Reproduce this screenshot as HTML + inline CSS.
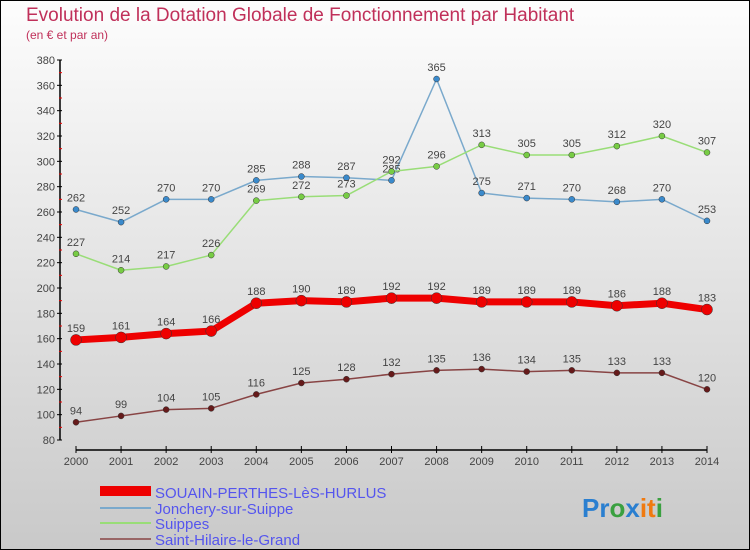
<!DOCTYPE html>
<html><head><meta charset="utf-8"><style>
body{margin:0;width:750px;height:550px;overflow:hidden}
svg{display:block;font-family:"Liberation Sans",sans-serif}
</style></head><body>
<svg id="c" width="750" height="550">
<defs><linearGradient id="bg" x1="0" y1="0" x2="0" y2="1"><stop offset="0" stop-color="#fdfdfd"/><stop offset="1" stop-color="#c9c9c9"/></linearGradient></defs>
<rect x="0.5" y="0.5" width="749" height="549" fill="url(#bg)" stroke="#000"/>
<text x="26" y="21" font-size="19" fill="#c0305a">Evolution de la Dotation Globale de Fonctionnement par Habitant</text>
<text x="26" y="39" font-size="12" fill="#c0305a">(en € et par an)</text>
<g id="axes"></g><g id="series"></g>
<g>
<rect x="100" y="486" width="51" height="10" fill="#e00"/>
<text x="155" y="498" font-size="15" fill="#5555ee">SOUAIN-PERTHES-LèS-HURLUS</text>
<rect x="100" y="507" width="51" height="2" fill="#7aa9cc"/>
<text x="155" y="514" font-size="15" fill="#5555ee">Jonchery-sur-Suippe</text>
<rect x="100" y="522" width="51" height="2" fill="#99dd77"/>
<text x="155" y="529" font-size="15" fill="#5555ee">Suippes</text>
<rect x="100" y="538" width="51" height="2" fill="#996666"/>
<text x="155" y="545" font-size="15" fill="#5555ee">Saint-Hilaire-le-Grand</text>
</g>
<text x="582" y="517" font-size="26" font-weight="bold"><tspan fill="#2a7fd0">Pr</tspan><tspan fill="#3aa040">o</tspan><tspan fill="#2a7fd0">x</tspan><tspan fill="#f07a10">it</tspan><tspan fill="#3aa040">i</tspan></text>
</svg>
<script>
const years=[2000,2001,2002,2003,2004,2005,2006,2007,2008,2009,2010,2011,2012,2013,2014];
const souain=[159,161,164,166,188,190,189,192,192,189,189,189,186,188,183];
const jonchery=[262,252,270,270,285,288,287,285,365,275,271,270,268,270,253];
const suippes=[227,214,217,226,269,272,273,292,296,313,305,305,312,320,307];
const hilaire=[94,99,104,105,116,125,128,132,135,136,134,135,133,133,120];
const yTicks=[80,100,120,140,160,180,200,220,240,260,280,300,320,340,360,380];
const NS="http://www.w3.org/2000/svg";
const xs=i=>76+i*(707-76)/(years.length-1);
const ys=v=>440-(v-80)*(380/300);
function mk(t,a,p){const e=document.createElementNS(NS,t);for(const k in a)e.setAttribute(k,a[k]);p.appendChild(e);return e;}
const ax=document.getElementById('axes');
const yl=mk('line',{x1:60,y1:ys(380),x2:60,y2:ys(80),stroke:'#000','stroke-width':1.5},ax);


yTicks.forEach(v=>{
 mk('line',{x1:57,y1:ys(v),x2:62,y2:ys(v),stroke:'#000'},ax);
 if(v<380)mk('line',{x1:59,y1:ys(v+10),x2:62,y2:ys(v+10),stroke:'#e00'},ax);
 const t=mk('text',{x:55,y:ys(v)+4,'font-size':11,'text-anchor':'end',fill:'#444'},ax);t.textContent=v;
 
 
});
const xl=mk('line',{x1:76,y1:450,x2:707,y2:450,stroke:'#000','stroke-width':1.5},ax);


years.forEach((y,i)=>{
 mk('line',{x1:xs(i),y1:446,x2:xs(i),y2:453,stroke:'#000'},ax);
 const t=mk('text',{x:xs(i),y:465,'font-size':11,'text-anchor':'middle',fill:'#444'},ax);t.textContent=y;
 
 
});
const sg=document.getElementById('series');
function series(data,name,color,dot,w,r){
 const g=mk('g',{},sg);
 
 
 const l=mk('polyline',{points:data.map((v,i)=>xs(i)+','+ys(v)).join(' '),fill:'none',stroke:color,'stroke-width':w,'stroke-linejoin':'round'},g);
 
 
 data.forEach((v,i)=>{
  const c=mk('circle',{cx:xs(i),cy:ys(v),r:r,fill:dot,stroke:'#333','stroke-width':0.5},g);
  
  
  const t=mk('text',{x:xs(i),y:ys(v)-8,'font-size':11,'text-anchor':'middle',fill:'#444'},g);t.textContent=v;
  
  
 });
}
series(jonchery,'jonchery','#7aa9cc','#3a8acc',1.5,3);
series(suippes,'suippes','#99dd77','#77cc44',1.5,3);
series(hilaire,'saint-hilaire','#884444','#661a1a',1.5,3);
series(souain,'souain','#ee0000','#ee0000',7,5.5);
</script>
</body></html>
